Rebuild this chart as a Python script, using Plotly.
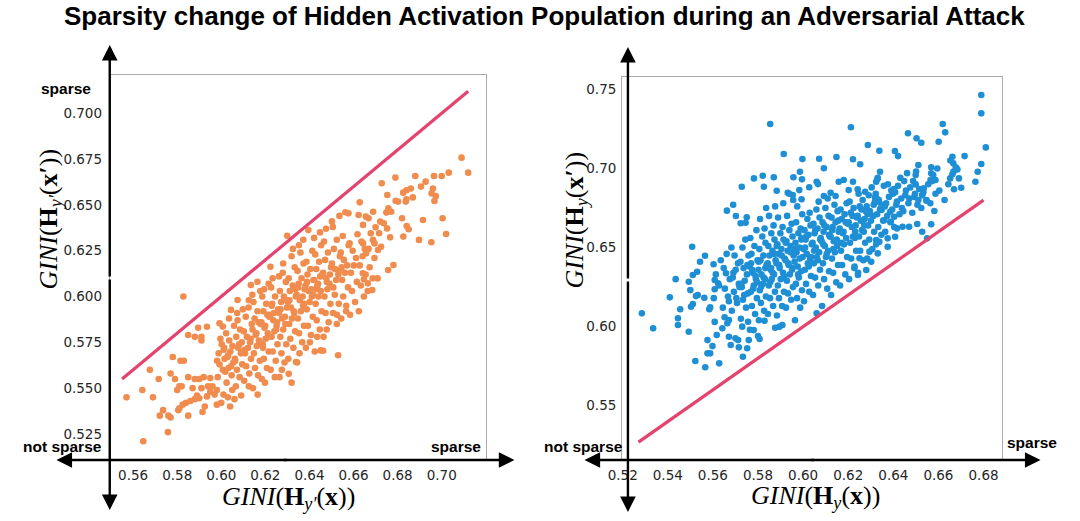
import plotly.graph_objects as go

W, H = 1080, 521

# ---------------- data ----------------
left_points = [
    # sparse lower-left part
    (0.557,0.545),(0.5646,0.521),(0.5642,0.549),(0.5676,0.560),(0.569,0.545),(0.5721,0.535),(0.5736,0.538),(0.576,0.535),
    (0.577,0.534),(0.5758,0.526),(0.5716,0.555),(0.577,0.558),(0.579,0.555),(0.578,0.567),(0.5815,0.565),(0.583,0.565),
    (0.5828,0.600),(0.585,0.579),(0.588,0.578),(0.591,0.578),(0.591,0.576),(0.5895,0.583),(0.5935,0.5835),(0.585,0.556),
    (0.581,0.551),(0.580,0.549),(0.582,0.551),(0.588,0.555),(0.590,0.555),(0.592,0.556),(0.587,0.550),(0.589,0.546),
    (0.591,0.550),(0.584,0.542),(0.586,0.543),(0.588,0.544),(0.590,0.5445),(0.5825,0.541),(0.581,0.539),(0.5805,0.538),
    (0.585,0.535),(0.5915,0.537),(0.5925,0.540),(0.5935,0.5455),(0.594,0.551),(0.596,0.551),(0.595,0.5555),(0.595,0.548),
    (0.597,0.5465),(0.598,0.549),(0.600,0.542),(0.601,0.5465),(0.598,0.541),(0.604,0.540),(0.603,0.545),(0.606,0.544),
    (0.609,0.546),(0.605,0.549),(0.6165,0.5465),(0.6319,0.553),(0.653,0.568),(0.6451,0.5706),(0.6462,0.5704),
    (0.6339,0.5643),(0.6306,0.5578),
    # dense band
    (0.5984,0.556),(0.6007,0.560),(0.5992,0.563),(0.6015,0.566),(0.5988,0.569),(0.6011,0.571),(0.6002,0.574),(0.5996,0.577),
    (0.6018,0.559),(0.5981,0.565),(0.6013,0.572),
    (0.6024,0.553),(0.6047,0.557),(0.6033,0.561),(0.6055,0.564),(0.6028,0.567),(0.6041,0.570),(0.6051,0.573),(0.6036,0.576),
    (0.6022,0.580),(0.6058,0.584),(0.6031,0.568),(0.6044,0.562),
    (0.6066,0.551),(0.6083,0.556),(0.6071,0.560),(0.6095,0.563),(0.6062,0.566),(0.6089,0.569),(0.6077,0.572),(0.6093,0.575),
    (0.6068,0.578),(0.6085,0.582),(0.6074,0.587),(0.6098,0.570),(0.6063,0.565),(0.6081,0.574),
    (0.6104,0.554),(0.6127,0.558),(0.6113,0.562),(0.6135,0.566),(0.6108,0.569),(0.6121,0.572),(0.6131,0.575),(0.6116,0.578),
    (0.6102,0.581),(0.6138,0.585),(0.6111,0.589),(0.6124,0.594),(0.6106,0.571),(0.6133,0.577),
    (0.6144,0.550),(0.6167,0.557),(0.6153,0.561),(0.6175,0.565),(0.6148,0.569),(0.6161,0.573),(0.6171,0.576),(0.6156,0.579),
    (0.6142,0.582),(0.6178,0.585),(0.6151,0.588),(0.6164,0.592),(0.6146,0.597),(0.6173,0.575),(0.6159,0.580),(0.6169,0.586),
    (0.6184,0.555),(0.6207,0.561),(0.6193,0.566),(0.6215,0.570),(0.6188,0.574),(0.6201,0.577),(0.6211,0.580),(0.6196,0.583),
    (0.6182,0.586),(0.6218,0.589),(0.6191,0.592),(0.6204,0.596),(0.6186,0.600),(0.6213,0.578),(0.6199,0.584),(0.6209,0.590),
    (0.6189,0.572),
    (0.6224,0.560),(0.6247,0.565),(0.6233,0.570),(0.6255,0.574),(0.6228,0.578),(0.6241,0.581),(0.6251,0.584),(0.6236,0.587),
    (0.6222,0.590),(0.6258,0.593),(0.6231,0.596),(0.6244,0.600),(0.6226,0.605),(0.6253,0.586),(0.6239,0.591),(0.6249,0.582),
    (0.6229,0.595),
    (0.6264,0.556),(0.6287,0.564),(0.6273,0.569),(0.6295,0.574),(0.6268,0.578),(0.6281,0.582),(0.6291,0.585),(0.6276,0.588),
    (0.6262,0.591),(0.6298,0.594),(0.6271,0.597),(0.6284,0.600),(0.6266,0.603),(0.6293,0.608),(0.6279,0.613),(0.6289,0.589),
    (0.6269,0.593),(0.6296,0.598),
    (0.6304,0.566),(0.6327,0.572),(0.6313,0.577),(0.6335,0.581),(0.6308,0.585),(0.6321,0.588),(0.6331,0.591),(0.6316,0.594),
    (0.6302,0.597),(0.6338,0.600),(0.6311,0.603),(0.6324,0.606),(0.6306,0.610),(0.6333,0.616),(0.6319,0.622),(0.6329,0.592),
    (0.6309,0.598),(0.6336,0.604),
    (0.6344,0.564),(0.6367,0.575),(0.6353,0.580),(0.6375,0.584),(0.6348,0.588),(0.6361,0.592),(0.6371,0.595),(0.6356,0.598),
    (0.6342,0.601),(0.6378,0.604),(0.6351,0.607),(0.6364,0.610),(0.6346,0.614),(0.6373,0.618),(0.6359,0.624),(0.6369,0.600),
    (0.6349,0.605),(0.6376,0.596),
    (0.6384,0.572),(0.6407,0.579),(0.6393,0.584),(0.6415,0.589),(0.6388,0.593),(0.6401,0.597),(0.6411,0.600),(0.6396,0.603),
    (0.6382,0.606),(0.6418,0.609),(0.6391,0.612),(0.6404,0.615),(0.6386,0.619),(0.6413,0.625),(0.6409,0.604),(0.6389,0.608),
    (0.6416,0.601),
    (0.6424,0.570),(0.6447,0.582),(0.6433,0.587),(0.6455,0.592),(0.6428,0.596),(0.6441,0.600),(0.6451,0.603),(0.6436,0.606),
    (0.6422,0.609),(0.6458,0.612),(0.6431,0.615),(0.6444,0.619),(0.6426,0.623),(0.6453,0.628),(0.6439,0.607),(0.6449,0.611),
    (0.6429,0.604),
    (0.6464,0.578),(0.6487,0.586),(0.6473,0.591),(0.6495,0.596),(0.6468,0.600),(0.6481,0.604),(0.6491,0.607),(0.6476,0.610),
    (0.6462,0.613),(0.6498,0.616),(0.6471,0.620),(0.6484,0.624),(0.6466,0.630),(0.6493,0.612),(0.6479,0.608),
    (0.6524,0.585),(0.6507,0.591),(0.6533,0.596),(0.6515,0.601),(0.6508,0.605),(0.6521,0.609),(0.6531,0.612),(0.6516,0.615),
    (0.6502,0.618),(0.6538,0.622),(0.6511,0.626),(0.6524,0.631),(0.6506,0.638),(0.6533,0.614),
    (0.6544,0.588),(0.6567,0.595),(0.6553,0.600),(0.6575,0.605),(0.6548,0.609),(0.6561,0.613),(0.6571,0.617),(0.6556,0.620),
    (0.6542,0.624),(0.6578,0.628),(0.6551,0.633),(0.6546,0.616),
    (0.6584,0.590),(0.6607,0.597),(0.6593,0.603),(0.6615,0.608),(0.6588,0.613),(0.6601,0.617),(0.6611,0.621),(0.6596,0.625),
    (0.6582,0.629),(0.6618,0.634),
    (0.6624,0.592),(0.6647,0.600),(0.6633,0.606),(0.6655,0.612),(0.6628,0.617),(0.6641,0.622),(0.6651,0.626),(0.6636,0.630),
    (0.6664,0.603),(0.6687,0.610),(0.6673,0.616),(0.6695,0.621),(0.6668,0.626),
    # upper and lower edges of the band
    (0.6035,0.588),(0.6072,0.591),(0.6098,0.593),(0.6125,0.598),(0.6141,0.601),(0.6177,0.603),(0.6195,0.604),(0.6215,0.607),
    (0.6233,0.610),(0.6262,0.611),(0.6281,0.618),(0.6325,0.626),(0.6352,0.628),(0.6372,0.631),(0.6421,0.632),(0.6448,0.635),
    (0.6475,0.637),(0.6502,0.641),(0.6536,0.644),(0.6563,0.646),
    (0.6125,0.551),(0.6198,0.553),(0.6243,0.556),(0.6275,0.560),(0.6355,0.569),(0.6402,0.575),(0.6435,0.578),(0.6478,0.582),
    (0.6525,0.590),(0.6566,0.592),
    # points near the diagonal and around the band
    (0.6223,0.6163),(0.6134,0.6063),(0.6164,0.6081),(0.6044,0.5927),(0.6007,0.5836),(0.5992,0.5854),(0.6074,0.5981),
    (0.6299,0.6332),(0.6395,0.6363),
    # upper-right sparse part
    (0.709,0.6758),(0.712,0.6676),(0.7032,0.6676),(0.700,0.6658),(0.6965,0.6658),(0.6927,0.6627),(0.6906,0.660),(0.688,0.6658),
    (0.679,0.6649),(0.6728,0.6618),(0.684,0.658),(0.686,0.659),(0.6825,0.6567),(0.6869,0.6541),(0.696,0.659),(0.6954,0.6563),
    (0.6973,0.6548),(0.6967,0.6521),(0.6753,0.6554),(0.6791,0.6523),(0.6802,0.6518),(0.6837,0.6518),(0.684,0.653),(0.6628,0.6514),
    (0.6758,0.6481),(0.6771,0.6463),(0.6749,0.6458),(0.6689,0.6463),(0.6577,0.6454),(0.6623,0.6445),(0.6656,0.6436),(0.6668,0.6427),
    (0.6643,0.6391),(0.682,0.6427),(0.6915,0.6418),(0.7004,0.6427),(0.6841,0.6385),(0.685,0.6367),(0.6826,0.6327),(0.6766,0.6323),
    (0.702,0.6341),(0.6897,0.6309),(0.6953,0.6296),(0.6721,0.6409),(0.6737,0.640),(0.6752,0.6372),(0.670,0.6378),(0.6678,0.6345),
    (0.6716,0.6345),(0.6688,0.6309),(0.6695,0.629),(0.6643,0.629),(0.6725,0.6272),(0.6711,0.6254),(0.6657,0.6236),(0.6781,0.6172),
    (0.6757,0.6145),(0.6709,0.6099),(0.6685,0.6036),(0.6665,0.6072),(0.6642,0.6127),(0.6647,0.6094),
]

right_points = [
    # sparse lower-left part
    (0.5285,0.6084),(0.5335,0.5989),(0.5409,0.6185),(0.5435,0.630),(0.5455,0.611),(0.5445,0.6053),(0.5445,0.601),(0.5493,0.5968),
    (0.5508,0.6505),(0.5493,0.6284),(0.550,0.6231),(0.5511,0.6326),(0.553,0.6347),(0.5543,0.641),(0.5565,0.6448),(0.5503,0.6126),
    (0.5511,0.6143),(0.5525,0.6193),(0.5533,0.620),(0.5562,0.6183),(0.5584,0.611),(0.5588,0.6122),(0.5522,0.5783),(0.5566,0.5743),
    (0.5628,0.5768),(0.5576,0.5915),(0.5598,0.5877),(0.5576,0.5831),(0.5588,0.5831),(0.5617,0.5947),(0.5608,0.6236),(0.5608,0.6295),
    (0.5603,0.6394),(0.5623,0.6274),(0.5642,0.5989),(0.5664,0.6021),(0.5652,0.6059),(0.5671,0.6042),(0.5671,0.5936),(0.570,0.5926),
    (0.5679,0.5884),(0.5715,0.5869),(0.5733,0.581),(0.5712,0.5915),(0.5759,0.5915),(0.5752,0.5863),(0.573,0.600),(0.5756,0.6031),
    (0.5781,0.5978),(0.580,0.594),(0.5807,0.5922),(0.5829,0.6037),(0.5876,0.5993),(0.5895,0.600),(0.5908,0.601),
    (0.5658,0.6337),(0.5662,0.6733),(0.5702,0.6699),(0.5723,0.6653),(0.575,0.6691),(0.5745,0.6657),(0.5728,0.6884),(0.5782,0.6937),
    (0.5821,0.6954),(0.5826,0.6884),(0.569,0.677),
    # upper part
    (0.5854,0.7281),(0.6212,0.726),(0.6287,0.7148),(0.5914,0.7091),(0.5997,0.7059),(0.6071,0.7061),(0.6148,0.7072),(0.6221,0.7058),
    (0.6253,0.7026),(0.6092,0.7001),(0.587,0.6944),(0.5883,0.6859),(0.5957,0.6944),(0.5995,0.6931),(0.5986,0.6979),(0.5932,0.6846),
    (0.5954,0.6832),(0.5983,0.6863),(0.5993,0.6805),(0.6027,0.6881),(0.606,0.6916),(0.6066,0.6901),(0.6092,0.6826),(0.6122,0.6846),
    (0.6144,0.6826),(0.6158,0.6916),(0.618,0.6927),(0.6202,0.6863),(0.6221,0.6916),(0.6242,0.6868),(0.6275,0.6853),(0.6324,0.6916),
    (0.6329,0.6931),(0.6341,0.6979),(0.6319,0.6817),(0.6334,0.6789),(0.6348,0.6737),
    # upper-right part
    (0.679,0.7464),(0.679,0.7348),(0.681,0.7133),(0.679,0.7028),(0.6774,0.6979),(0.6764,0.6916),(0.6716,0.7078),(0.6701,0.6878),
    (0.6669,0.6868),(0.6691,0.6937),(0.6652,0.6937),(0.6662,0.6963),(0.6666,0.7032),(0.6662,0.7074),(0.6677,0.7007),(0.6684,0.6994),
    (0.6619,0.7281),(0.663,0.7228),(0.6601,0.7169),(0.6465,0.7222),(0.6503,0.719),(0.6524,0.7162),(0.6338,0.7112),
    (0.6407,0.711),(0.6421,0.7078),(0.6568,0.7007),(0.6568,0.6969),(0.6577,0.6958),(0.6565,0.6927),(0.6587,0.6927),(0.6511,0.7021),
    (0.6499,0.6958),(0.6499,0.6899),(0.6535,0.6874),(0.6528,0.6832),(0.6547,0.6796),(0.6582,0.6731),(0.6568,0.6647),(0.6506,0.6649),
    (0.6528,0.660),(0.655,0.6558),(0.647,0.6631),(0.6441,0.6631),(0.6416,0.6621),(0.6408,0.6568),(0.6375,0.6558),(0.636,0.6674),
    (0.6389,0.6663),(0.6404,0.6695),(0.6386,0.6726),(0.6324,0.6548),(0.6338,0.6537),(0.6375,0.6505),(0.6331,0.6463),(0.6294,0.6474),
    (0.6302,0.641),(0.625,0.6432),(0.6228,0.6379),(0.628,0.6358),(0.6243,0.6326),(0.606,0.6084),
    # dense core
    (0.5604,0.618),(0.5627,0.626),(0.5613,0.633),(0.5635,0.642),(0.5608,0.603),
    (0.5644,0.612),(0.5667,0.619),(0.5653,0.624),(0.5675,0.630),(0.5648,0.637),(0.5661,0.646),(0.5671,0.616),
    (0.5684,0.610),(0.5707,0.615),(0.5693,0.622),(0.5715,0.627),(0.5688,0.631),(0.5701,0.636),(0.5711,0.640),(0.5696,0.645),
    (0.5682,0.650),(0.5718,0.625),(0.5691,0.634),(0.5704,0.618),
    (0.5724,0.605),(0.5747,0.612),(0.5733,0.617),(0.5755,0.621),(0.5728,0.625),(0.5741,0.629),(0.5751,0.633),(0.5736,0.637),
    (0.5722,0.641),(0.5758,0.645),(0.5731,0.650),(0.5744,0.655),(0.5726,0.627),(0.5753,0.639),(0.5739,0.620),
    (0.5764,0.598),(0.5787,0.608),(0.5773,0.613),(0.5795,0.618),(0.5768,0.622),(0.5781,0.626),(0.5791,0.630),(0.5776,0.634),
    (0.5762,0.638),(0.5798,0.642),(0.5771,0.646),(0.5784,0.651),(0.5766,0.656),(0.5793,0.661),(0.5779,0.624),(0.5789,0.632),
    (0.5769,0.640),(0.5796,0.628),(0.5774,0.636),
    (0.5804,0.604),(0.5827,0.610),(0.5813,0.615),(0.5835,0.619),(0.5808,0.623),(0.5821,0.627),(0.5831,0.630),(0.5816,0.633),
    (0.5802,0.636),(0.5838,0.639),(0.5811,0.642),(0.5824,0.645),(0.5806,0.649),(0.5833,0.653),(0.5819,0.657),(0.5829,0.662),
    (0.5809,0.668),(0.5836,0.675),(0.5814,0.625),(0.5825,0.631),(0.5803,0.641),(0.5832,0.637),
    (0.5844,0.608),(0.5867,0.613),(0.5853,0.618),(0.5875,0.622),(0.5848,0.626),(0.5861,0.630),(0.5871,0.633),(0.5856,0.636),
    (0.5842,0.639),(0.5878,0.642),(0.5851,0.645),(0.5864,0.648),(0.5846,0.651),(0.5873,0.655),(0.5859,0.659),(0.5869,0.664),
    (0.5849,0.670),(0.5876,0.676),(0.5854,0.628),(0.5865,0.634),(0.5843,0.640),(0.5872,0.646),(0.5858,0.637),
    (0.5884,0.607),(0.5907,0.613),(0.5893,0.618),(0.5915,0.622),(0.5888,0.626),(0.5901,0.630),(0.5911,0.634),(0.5896,0.637),
    (0.5882,0.640),(0.5918,0.643),(0.5891,0.646),(0.5904,0.649),(0.5886,0.652),(0.5913,0.655),(0.5899,0.659),(0.5909,0.663),
    (0.5889,0.669),(0.5916,0.632),(0.5894,0.639),(0.5905,0.645),(0.5883,0.651),(0.5912,0.678),
    (0.5924,0.612),(0.5947,0.617),(0.5933,0.621),(0.5955,0.625),(0.5928,0.629),(0.5941,0.633),(0.5951,0.636),(0.5936,0.639),
    (0.5922,0.642),(0.5958,0.645),(0.5931,0.648),(0.5944,0.651),(0.5926,0.654),(0.5953,0.657),(0.5939,0.661),(0.5949,0.665),
    (0.5929,0.670),(0.5956,0.680),(0.5934,0.640),(0.5945,0.647),(0.5923,0.653),(0.5952,0.637),(0.5938,0.684),
    (0.5964,0.604),(0.5987,0.612),(0.5973,0.618),(0.5995,0.623),(0.5968,0.627),(0.5981,0.631),(0.5991,0.635),(0.5976,0.638),
    (0.5962,0.641),(0.5998,0.644),(0.5971,0.647),(0.5984,0.650),(0.5966,0.653),(0.5993,0.656),(0.5979,0.659),(0.5989,0.662),
    (0.5969,0.666),(0.5996,0.671),(0.5974,0.676),(0.5985,0.643),(0.5963,0.649),(0.5992,0.655),(0.5978,0.633),
    (0.6004,0.616),(0.6027,0.622),(0.6013,0.627),(0.6035,0.632),(0.6008,0.636),(0.6021,0.640),(0.6031,0.643),(0.6016,0.646),
    (0.6002,0.649),(0.6038,0.652),(0.6011,0.655),(0.6024,0.658),(0.6006,0.661),(0.6033,0.664),(0.6019,0.668),(0.6029,0.672),
    (0.6009,0.650),(0.6036,0.644),(0.6014,0.657),(0.6025,0.638),
    (0.6044,0.620),(0.6067,0.626),(0.6053,0.631),(0.6075,0.636),(0.6048,0.640),(0.6061,0.644),(0.6071,0.647),(0.6056,0.650),
    (0.6042,0.653),(0.6078,0.656),(0.6051,0.659),(0.6064,0.662),(0.6046,0.665),(0.6073,0.669),(0.6059,0.674),(0.6069,0.679),
    (0.6049,0.648),(0.6076,0.655),(0.6054,0.661),(0.6065,0.642),
    (0.6084,0.613),(0.6107,0.624),(0.6093,0.630),(0.6115,0.635),(0.6088,0.640),(0.6101,0.644),(0.6111,0.648),(0.6096,0.651),
    (0.6082,0.654),(0.6118,0.657),(0.6091,0.660),(0.6104,0.663),(0.6086,0.666),(0.6113,0.670),(0.6099,0.675),(0.6109,0.681),
    (0.6089,0.652),(0.6116,0.658),(0.6094,0.664),(0.6105,0.646),
    (0.6124,0.620),(0.6147,0.628),(0.6133,0.634),(0.6155,0.639),(0.6128,0.643),(0.6141,0.647),(0.6151,0.651),(0.6136,0.654),
    (0.6122,0.657),(0.6158,0.660),(0.6131,0.663),(0.6144,0.666),(0.6126,0.669),(0.6153,0.673),(0.6139,0.677),(0.6149,0.655),
    (0.6129,0.661),(0.6156,0.667),(0.6134,0.649),
    (0.6164,0.626),(0.6187,0.633),(0.6173,0.639),(0.6195,0.644),(0.6168,0.648),(0.6181,0.652),(0.6191,0.656),(0.6176,0.659),
    (0.6162,0.662),(0.6198,0.665),(0.6171,0.668),(0.6184,0.671),(0.6166,0.674),(0.6193,0.678),(0.6179,0.660),(0.6189,0.666),
    (0.6169,0.653),
    (0.6204,0.630),(0.6227,0.637),(0.6213,0.643),(0.6235,0.648),(0.6208,0.653),(0.6221,0.657),(0.6231,0.660),(0.6216,0.663),
    (0.6202,0.666),(0.6238,0.669),(0.6211,0.672),(0.6224,0.675),(0.6206,0.679),(0.6233,0.664),(0.6219,0.670),(0.6229,0.656),
    (0.6244,0.634),(0.6267,0.642),(0.6253,0.648),(0.6275,0.653),(0.6248,0.657),(0.6261,0.661),(0.6271,0.664),(0.6256,0.667),
    (0.6242,0.670),(0.6278,0.673),(0.6251,0.676),(0.6264,0.680),(0.6246,0.684),(0.6273,0.668),(0.6259,0.674),(0.6269,0.660),
    (0.6284,0.643),(0.6307,0.649),(0.6293,0.655),(0.6315,0.660),(0.6288,0.664),(0.6301,0.667),(0.6311,0.670),(0.6296,0.673),
    (0.6282,0.676),(0.6318,0.679),(0.6291,0.683),(0.6304,0.688),(0.6286,0.671),(0.6313,0.677),
    (0.6324,0.652),(0.6347,0.658),(0.6333,0.663),(0.6355,0.667),(0.6328,0.671),(0.6341,0.674),(0.6351,0.677),(0.6336,0.680),
    (0.6322,0.684),(0.6358,0.689),(0.6331,0.694),(0.6344,0.675),(0.6326,0.681),
    (0.6364,0.660),(0.6387,0.666),(0.6373,0.670),(0.6395,0.674),(0.6368,0.678),(0.6381,0.682),(0.6391,0.686),(0.6376,0.690),
    (0.6362,0.676),(0.6398,0.684),
    (0.6404,0.663),(0.6427,0.671),(0.6413,0.677),(0.6435,0.681),(0.6408,0.685),(0.6421,0.689),(0.6431,0.694),(0.6416,0.679),
    (0.6402,0.687),(0.6438,0.675),
    (0.6444,0.673),(0.6467,0.678),(0.6453,0.683),(0.6475,0.688),(0.6448,0.692),(0.6461,0.697),(0.6471,0.681),(0.6456,0.686),
    (0.6484,0.672),(0.6507,0.677),(0.6493,0.682),(0.6515,0.687),(0.6488,0.692),(0.6501,0.698),(0.6511,0.680),(0.6496,0.684),
    (0.6524,0.675),(0.6547,0.680),(0.6533,0.685),(0.6555,0.690),(0.6528,0.683),
    (0.6564,0.678),(0.6587,0.684),(0.6573,0.692),(0.6595,0.700),
    (0.6604,0.686),(0.6627,0.680),(0.6644,0.690),(0.6667,0.698),(0.6653,0.705),
]

left_x = [p[0] for p in left_points]
left_y = [p[1] for p in left_points]
right_x = [p[0] for p in right_points]
right_y = [p[1] for p in right_points]

left_diag = [0.555, 0.712]
right_diag = [0.527, 0.680]

left_xticks = [0.56, 0.58, 0.60, 0.62, 0.64, 0.66, 0.68, 0.70]
left_yticks = [0.525, 0.550, 0.575, 0.600, 0.625, 0.650, 0.675, 0.700]
right_xticks = [0.52, 0.54, 0.56, 0.58, 0.60, 0.62, 0.64, 0.66, 0.68]
right_yticks = [0.55, 0.60, 0.65, 0.70, 0.75]

title_text = "Sparsity change of Hidden Activation Population during an Adversarial Attack"

# ---------------- styling ----------------
ORANGE = "#F08C4E"
BLUE = "#1E8FD5"
RED = "#E3436E"
FRAME = "#ABABAB"
TICKFONT = dict(family="DejaVu Sans", size=13.5, color="#262626")
MSIZE = 6.6


def fx(p):
    return p / W


def fy(p):
    return 1 - p / H


fig = go.Figure()
fig.add_trace(go.Scatter(x=left_x, y=left_y, mode="markers", xaxis="x", yaxis="y",
                         marker=dict(color=ORANGE, size=MSIZE, line=dict(width=0)), hoverinfo="skip"))
fig.add_trace(go.Scatter(x=left_diag, y=left_diag, mode="lines", xaxis="x", yaxis="y",
                         line=dict(color=RED, width=3.2), hoverinfo="skip"))
fig.add_trace(go.Scatter(x=right_x, y=right_y, mode="markers", xaxis="x2", yaxis="y2",
                         marker=dict(color=BLUE, size=MSIZE, line=dict(width=0)), hoverinfo="skip"))
fig.add_trace(go.Scatter(x=right_diag, y=right_diag, mode="lines", xaxis="x2", yaxis="y2",
                         line=dict(color=RED, width=3.2), hoverinfo="skip"))

axis_common = dict(showgrid=False, zeroline=False, ticks="", showline=True, linecolor=FRAME,
                   linewidth=1, mirror=True, tickfont=TICKFONT, fixedrange=True)

fig.update_layout(
    width=W, height=H, autosize=False,
    margin=dict(l=0, r=0, t=0, b=0),
    paper_bgcolor="white", plot_bgcolor="white",
    showlegend=False,
    xaxis=dict(domain=[fx(97), fx(478)], range=[0.5494, 0.720], anchor="y",
               tickvals=left_xticks, ticktext=[f"{v:.2f}" for v in left_xticks],
               ticklabelstandoff=3, **axis_common),
    yaxis=dict(domain=[fy(460), fy(75)], range=[0.5108, 0.7209], anchor="x",
               tickvals=left_yticks, ticktext=[f"{v:.3f}" for v in left_yticks],
               ticklabelstandoff=4, **axis_common),
    xaxis2=dict(domain=[fx(616), fx(1001)], range=[0.5197, 0.6882], anchor="y2",
                tickvals=right_xticks, ticktext=[f"{v:.2f}" for v in right_xticks],
                ticklabelstandoff=3, **axis_common),
    yaxis2=dict(domain=[fy(460), fy(77.3)], range=[0.5157, 0.7576], anchor="x2",
                tickvals=right_yticks, ticktext=[f"{v:.2f}" for v in right_yticks],
                ticklabelstandoff=2, **axis_common),
)

annotations = []


def arrow(hx, hy, tx, ty):
    annotations.append(dict(
        x=fx(hx), y=fy(hy), xref="paper", yref="paper",
        ax=tx - hx, ay=ty - hy, axref="pixel", ayref="pixel",
        text="", showarrow=True, arrowhead=2, arrowsize=1.3, arrowwidth=2.4,
        arrowcolor="black", standoff=0, startstandoff=0))


# left panel axes arrows
arrow(97, 45, 97, 278)
arrow(97, 510, 97, 278)
arrow(507, 460, 275, 460)
arrow(43, 460, 275, 460)
# right panel axes arrows
arrow(622, 47, 622, 280)
arrow(622, 512, 622, 280)
arrow(1040, 460, 809, 460)
arrow(578, 460, 809, 460)


def text(x, y, s, size, family="Liberation Sans", angle=0):
    annotations.append(dict(
        x=fx(x), y=fy(y), xref="paper", yref="paper", text=s, showarrow=False,
        xanchor="center", yanchor="middle", textangle=angle,
        font=dict(family=family, size=size, color="black")))


text(537.5, 16, f"<b>{title_text}</b>", 26)
text(53, 89, "<b>sparse</b>", 15.5)
text(49.5, 446, "<b>not sparse</b>", 15.5)
text(448, 446, "<b>sparse</b>", 15.5)
text(576.5, 446, "<b>not sparse</b>", 15.5)
text(1031.5, 442, "<b>sparse</b>", 15.5)

SERIF = "Liberation Serif"
text(278, 498, "<i>GINI</i>(<b>H</b><sub><i>y′</i></sub>(<b>x</b>))", 26, SERIF)
text(812, 497, "<i>GINI</i>(<b>H</b><sub><i>y</i></sub>(<b>x</b>))", 26, SERIF)
text(36, 219, "<i>GINI</i>(<b>H</b><sub><i>y′</i></sub>(<b>x′</b>))", 26, SERIF, -90)
text(569, 220, "<i>GINI</i>(<b>H</b><sub><i>y</i></sub>(<b>x′</b>))", 26, SERIF, -90)

fig.update_layout(annotations=annotations)

fig.write_html("out.html")
